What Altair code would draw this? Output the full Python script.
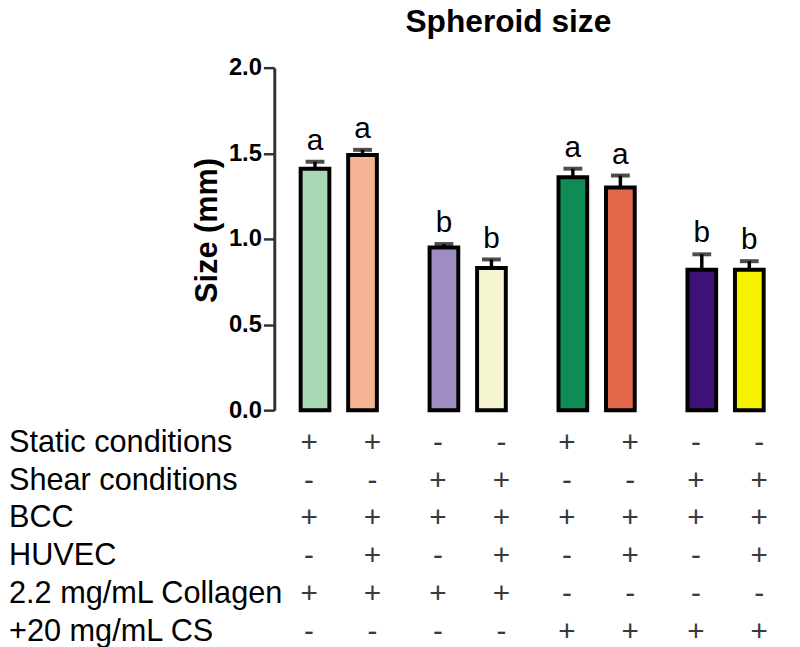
import altair as alt
import pandas as pd

FONT = "Liberation Sans, Arial, sans-serif"

# ---- data ----
groups = ["Static / Collagen", "Shear / Collagen", "Static / Collagen+CS", "Shear / Collagen+CS"]
cells = ["BCC", "BCC + HUVEC"]
sizes = [1.41, 1.49, 0.95, 0.83, 1.36, 1.30, 0.82, 0.82]
sems = [0.04, 0.03, 0.02, 0.05, 0.05, 0.07, 0.09, 0.05]
letters = ["a", "a", "b", "b", "a", "a", "b", "b"]
colors = ["#a8d7b6", "#f5b393", "#9f8cc0", "#f6f5d2", "#0f8b55", "#e4684a", "#3e1177", "#f7f200"]

row_labels = ["Static conditions", "Shear conditions", "BCC", "HUVEC",
              "2.2 mg/mL Collagen", "+20 mg/mL CS"]
signs = [
    ["+", "+", "-", "-", "+", "+", "-", "-"],
    ["-", "-", "+", "+", "-", "-", "+", "+"],
    ["+", "+", "+", "+", "+", "+", "+", "+"],
    ["-", "+", "-", "+", "-", "+", "-", "+"],
    ["+", "+", "+", "+", "-", "-", "-", "-"],
    ["-", "-", "-", "-", "+", "+", "+", "+"],
]

# ---- tables ----
bar_ids = [f"{groups[i // 2]} | {cells[i % 2]}" for i in range(8)]
df = pd.DataFrame({
    "group": [groups[i // 2] for i in range(8)],
    "cell": [cells[i % 2] for i in range(8)],
    "bar": bar_ids,
    "size": sizes,
    "sem": sems,
    "letter": letters,
})
df["top"] = df["size"] + df["sem"]

tab = pd.DataFrame([
    {"row": lab, "group": groups[i // 2], "cell": cells[i % 2], "sign": signs[r][i]}
    for r, lab in enumerate(row_labels) for i in range(8)
])
lab_df = pd.DataFrame({"row": row_labels})

# ---- encodings ----
x_scale = alt.Scale(paddingInner=0, paddingOuter=0)
x_axis = alt.Axis(labels=False, title=None, ticks=True, tickSize=9, tickWidth=2,
                  tickColor="#333333", domainColor="#333333", domainWidth=3)
x_enc = alt.X("group:N", sort=groups, scale=x_scale, axis=x_axis)
xo_bar = alt.XOffset("cell:N", sort=cells, scale=alt.Scale(paddingInner=0, paddingOuter=0.357))

y_axis = alt.Axis(values=[0, 0.5, 1.0, 1.5, 2.0], format=".1f", title="Size (mm)",
                  grid=False, labelFontSize=24, labelFontWeight="bold", labelColor="black",
                  labelFont=FONT, labelPadding=2, tickSize=11, tickWidth=2.5,
                  tickColor="#333333", domainColor="#333333", domainWidth=3,
                  titleFont=FONT, titleFontSize=31, titleFontWeight="bold",
                  titleColor="black", titleX=-51, titleY=164)
y_scale = alt.Scale(domain=[0, 2], nice=False)

base = alt.Chart(df)

bars = base.mark_bar(size=29, stroke="black", strokeWidth=4).encode(
    x=x_enc, xOffset=xo_bar,
    y=alt.Y("size:Q", scale=y_scale, axis=y_axis),
    color=alt.Color("bar:N", scale=alt.Scale(domain=bar_ids, range=colors), legend=None),
)
err = base.mark_rule(strokeWidth=3.5, color="black").encode(
    x=x_enc, xOffset=xo_bar,
    y=alt.Y("size:Q", scale=y_scale, axis=y_axis), y2="top:Q",
)
caps = base.mark_tick(size=19, thickness=4, color="black").encode(
    x=x_enc, xOffset=xo_bar,
    y=alt.Y("top:Q", scale=y_scale, axis=y_axis),
)
lett = base.mark_text(fontSize=30, font=FONT, dy=-12, baseline="alphabetic", color="black").encode(
    x=x_enc, xOffset=xo_bar,
    y=alt.Y("top:Q", scale=y_scale, axis=y_axis),
    text="letter:N",
)
main = alt.layer(bars, err, caps, lett)

row_scale = alt.Scale(type="point", range=[379, 570], padding=0)


def sign_layer(cell, shift):
    return alt.Chart(tab).transform_filter(alt.datum.cell == cell).mark_text(
        fontSize=30, font=FONT, color="#3a3a3a", baseline="middle", dx=shift
    ).encode(
        x=alt.X("group:N", sort=groups, scale=x_scale, axis=None),
        xOffset=xo_bar,
        y=alt.Y("row:N", sort=row_labels, scale=row_scale, axis=None),
        text="sign:N",
    )


label_layer = alt.Chart(lab_df).mark_text(fontSize=31, font=FONT, color="black", align="left",
                                          baseline="middle").encode(
    x=alt.value(-268),
    y=alt.Y("row:N", sort=row_labels, scale=row_scale, axis=None),
    text="row:N",
)
table = alt.layer(sign_layer(cells[0], -6), sign_layer(cells[1], 10), label_layer)

chart = alt.layer(main, table).resolve_scale(
    y="independent"
).properties(
    width=521, height=346,
    autosize=alt.AutoSizeParams(type="none"),
    padding={"left": 269, "top": 57, "right": 2, "bottom": 236},
    title=alt.TitleParams("Spheroid size", font=FONT, fontSize=32, fontWeight="bold",
                          color="black", anchor="middle", frame="group", offset=17, dx=-24),
).configure_view(stroke=None)

chart.save("out.html", embed_options={"renderer": "svg", "actions": False})
